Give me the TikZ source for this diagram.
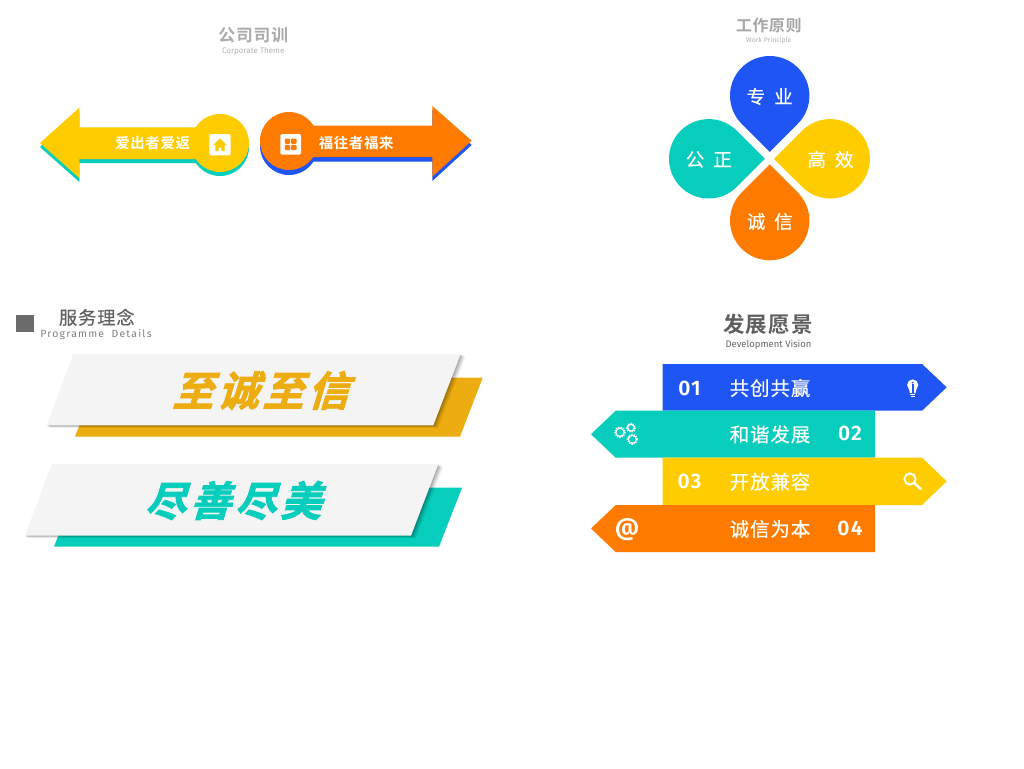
\documentclass[tikz,border=0pt]{standalone}
\usepackage{fontspec}
\newfontfamily\cjkreg[LetterSpace=5,FakeBold=0.5]{Noto Sans CJK SC}
\newfontfamily\cjkbold[LetterSpace=5]{Noto Sans CJK SC Bold}
\newfontfamily\cjkheavy[FakeSlant=0.3,FakeBold=2,LetterSpace=10]{Noto Sans CJK SC Bold}
\newfontfamily\latinreg{Fira Sans}
\newfontfamily\latinbold[LetterSpace=6]{Fira Sans SemiBold}
\definecolor{bluefill}{HTML}{1F55F5}
\definecolor{tealfill}{HTML}{07CDBC}
\definecolor{yellowfill}{HTML}{FFCC00}
\definecolor{orangefill}{HTML}{FF7B00}
\definecolor{goldfill}{HTML}{EDAC0F}
\definecolor{plate}{HTML}{F4F4F4}
\newlength{\du}
\setlength{\du}{1pt}
\tikzset{
  plain/.style={inner sep=0pt,outer sep=0pt},
  bigtitle/.style={plain,text=#1,font={\cjkbold\fontsize{16.8}{17}\selectfont}},
  subtitle/.style={plain,text=#1,font={\latinreg\fontsize{8}{8}\selectfont}},
  arrowtext/.style={plain,text=white,font={\cjkbold\fontsize{14.4}{14}\selectfont}},
  petaltext/.style={plain,text=white,font={\cjkreg\fontsize{18.5}{18}\selectfont\spaceskip=9pt\relax}},
  slanttext/.style={plain,text=#1,font={\cjkheavy\fontsize{41}{41}\selectfont}},
  bannertext/.style={plain,text=white,font={\cjkreg\fontsize{19.4}{19}\selectfont}},
  bannernum/.style={plain,text=white,font={\latinbold\fontsize{21}{21}\selectfont}},
  softshadow/.style={fill=black,opacity=#1},
  iconline/.style={draw=white,line width=1.4\du},
  gearteeth/.style={draw=white,line width=1.5\du,dash pattern=on 1.2\du off 1.2\du}
}
% one drop: tip pointing down before the rotation
\newcommand{\petal}[4]{
\fill[#4,shift={(#1\du,#2\du)},rotate=#3] (0\du,56.2\du)--(45:39.7\du) arc[start angle=45,end angle=-225,radius=39.7\du]--cycle;
}
\newcommand{\gear}[3]{
\draw[iconline,line width=1.2\du] (#1\du,#2\du) circle[radius=#3\du];
\draw[gearteeth] (#1\du,#2\du) circle[radius=#3\du+1\du];
}
\begin{document}
\begin{tikzpicture}
\pgftransformyscale{-1.000000}
\path[use as bounding box] (0\du,0\du) rectangle (1024\du,768\du);
\fill[white] (0\du,0\du) rectangle (1024\du,768\du);
% top left
\node[bigtitle=black!33] (themetitle) at (253.3\du,35\du){公司司训};
\node[subtitle=black!30] (themesub) at (253.3\du,51\du){Corporate Theme};
\fill[tealfill] (40\du,147\du)--(79.3\du,112\du)--(79.3\du,131\du)--(200\du,131\du)--(200\du,163\du)--(79.3\du,163\du)--(79.3\du,182\du)--cycle;
\fill[tealfill] (220\du,147\du) circle[radius=29\du];
\fill[yellowfill] (40\du,143\du)--(79.3\du,107.7\du)--(79.3\du,127.3\du)--(200\du,127.3\du)--(200\du,159\du)--(79.3\du,159\du)--(79.3\du,178\du)--cycle;
\fill[yellowfill] (220\du,143\du) circle[radius=29\du];
\fill[bluefill] (471.7\du,145\du)--(432.3\du,181\du)--(432.3\du,161.7\du)--(310\du,161.7\du)--(310\du,130\du)--(432.3\du,130\du)--(432.3\du,110\du)--cycle;
\fill[bluefill] (289\du,146\du) circle[radius=29\du];
\fill[orangefill] (471.7\du,140.7\du)--(432.3\du,106\du)--(432.3\du,125.7\du)--(310\du,125.7\du)--(310\du,157\du)--(432.3\du,157\du)--(432.3\du,176.7\du)--cycle;
\fill[orangefill] (289\du,141\du) circle[radius=29\du];
\fill[white,rounded corners=1.5\du] (209.3\du,134\du) rectangle (230.7\du,155.3\du);
\fill[yellowfill] (220\du,138.5\du)--(226.8\du,145.2\du)--(224.6\du,145.2\du)--(224.6\du,151\du)--(221.4\du,151\du)--(221.4\du,147.5\du)--(218.6\du,147.5\du)--(218.6\du,151\du)--(215.4\du,151\du)--(215.4\du,145.2\du)--(213.2\du,145.2\du)--cycle;
\fill[white,rounded corners=1.5\du] (280.3\du,134\du) rectangle (301\du,154.7\du);
\fill[orangefill,rounded corners=1\du] (284.8\du,138.5\du) rectangle (290.2\du,143.9\du);
\fill[orangefill,rounded corners=1\du] (291.1\du,138.5\du) rectangle (296.5\du,143.9\du);
\fill[orangefill,rounded corners=1\du] (284.8\du,144.8\du) rectangle (290.2\du,150.2\du);
\fill[orangefill,rounded corners=1\du] (291.1\du,144.8\du) rectangle (296.5\du,150.2\du);
\node[arrowtext] (yellowtext) at (152.7\du,142.7\du){爱出者爱返};
\node[arrowtext] (orangetext) at (356.2\du,142.7\du){福往者福来};
% top right
\node[bigtitle=black!35,font={\cjkbold\fontsize{15.8}{16}\selectfont}] (worktitle) at (768.8\du,25.7\du){工作原则};
\node[subtitle=black!30,font={\latinreg\fontsize{6.9}{7}\selectfont}] (worksub) at (768.8\du,40.8\du){Work Principle};
\petal{769.7}{95.7}{0}{bluefill}
\petal{830.2}{158.8}{90}{yellowfill}
\petal{708.7}{158.8}{-90}{tealfill}
\petal{769.7}{220.6}{180}{orangefill}
\node[petaltext] (petaltop) at (769.7\du,96.5\du){专 业};
\node[petaltext] (petalright) at (830.5\du,159.5\du){高 效};
\node[petaltext] (petalleft) at (708.8\du,159.5\du){公 正};
\node[petaltext] (petalbottom) at (769.8\du,221.5\du){诚 信};
% bottom left
\fill[black!58] (16.3\du,315\du) rectangle (34\du,332.3\du);
\node[plain,text=black!62,font={\cjkreg\fontsize{18.2}{19}\selectfont}] (servicetitle) at (96.8\du,317.3\du){服务理念};
\node[plain,text=black!50,font={\latinreg\fontsize{10.4}{10}\selectfont\addfontfeature{LetterSpace=12}}] (servicesub) at (96\du,334.5\du){Programme\,\, Details};
\fill[goldfill] (97.7\du,377.7\du)--(482.7\du,377.7\du)--(460\du,436.7\du)--(75\du,436.7\du)--cycle;
\foreach \off/\op in {5/.05,4/.06,3/.07,2/.09,1/.11}{
\fill[softshadow=\op] (73.3\du+\off*0.5\du,354\du+\off*0.5\du)--(460.7\du+\off\du,354\du+\off*0.5\du)--(433.3\du+\off\du,425.3\du+\off*0.5\du)--(46.7\du+\off*0.5\du,425.3\du+\off*0.5\du)--cycle;
}
\fill[plate] (73.3\du,354\du)--(460.7\du,354\du)--(433.3\du,425.3\du)--(46.7\du,425.3\du)--cycle;
\node[slanttext=goldfill] (goldtext) at (260.5\du,390.5\du){至诚至信};
\fill[tealfill] (76.7\du,487.7\du)--(462\du,487.7\du)--(439\du,546.7\du)--(54\du,546.7\du)--cycle;
\foreach \off/\op in {5/.05,4/.06,3/.07,2/.09,1/.11}{
\fill[softshadow=\op] (51.7\du+\off*0.5\du,464.3\du+\off*0.5\du)--(438.3\du+\off\du,464.3\du+\off*0.5\du)--(411\du+\off\du,535.7\du+\off*0.5\du)--(25\du+\off*0.5\du,535.7\du+\off*0.5\du)--cycle;
}
\fill[plate] (51.7\du,464.3\du)--(438.3\du,464.3\du)--(411\du,535.7\du)--(25\du,535.7\du)--cycle;
\node[slanttext=tealfill] (tealtext) at (233\du,500.5\du){尽善尽美};
% bottom right
\node[plain,text=black!63,font={\cjkbold\fontsize{21.5}{22}\selectfont}] (visiontitle) at (768\du,324.3\du){发展愿景};
\node[plain,text=black!60,font={\latinreg\fontsize{9.5}{9}\selectfont}] (visionsub) at (768.5\du,344.8\du){Development Vision};
\fill[bluefill] (662.7\du,364\du)--(922\du,364\du)--(946.7\du,387.3\du)--(922\du,410.7\du)--(662.7\du,410.7\du)--cycle;
\fill[tealfill] (875\du,410.7\du)--(615.7\du,410.7\du)--(591\du,434.2\du)--(615.7\du,457.7\du)--(875\du,457.7\du)--cycle;
\fill[yellowfill] (662.7\du,457.7\du)--(922\du,457.7\du)--(946.7\du,481.3\du)--(922\du,505\du)--(662.7\du,505\du)--cycle;
\fill[orangefill] (875\du,505\du)--(615.7\du,505\du)--(591\du,528.5\du)--(615.7\du,552\du)--(875\du,552\du)--cycle;
\node[bannernum] (numa) at (689.5\du,388\du){01};
\node[bannertext] (texta) at (770\du,388\du){共创共赢};
\node[bannertext] (textb) at (770\du,434.3\du){和谐发展};
\node[bannernum] (numb) at (850\du,433.5\du){02};
\node[bannernum] (numc) at (689.5\du,481.7\du){03};
\node[bannertext] (textc) at (770\du,481.7\du){开放兼容};
\node[bannertext] (textd) at (770\du,529\du){诚信为本};
\node[bannernum] (numd) at (850\du,528\du){04};
% banner icons
\fill[white] (912.7\du,385\du) circle[radius=5.6\du];
\fill[white] (908.8\du,388\du)--(916.6\du,388\du)--(915.6\du,393\du)--(909.8\du,393\du)--cycle;
\fill[white] (910\du,394\du) rectangle (915.4\du,395.2\du);
\fill[white] (910.8\du,395.8\du) rectangle (914.6\du,396.9\du);
\fill[bluefill] (912.7\du,382.6\du) circle[radius=1\du];
\fill[bluefill] (911.5\du,384.3\du) rectangle (913.9\du,392.5\du);
\gear{620}{432.3}{4.1}
\gear{631}{427.7}{3.3}
\gear{632.3}{439.3}{3.9}
\draw[iconline,line width=1.9\du] (910\du,479\du) circle[radius=5.6\du];
\draw[white,line width=2.6\du,line cap=round] (914.3\du,483\du)--(920.7\du,489\du);
\node[plain,text=white,font={\latinbold\fontsize{24}{24}\selectfont}] (atsign) at (627\du,530\du){@};
\end{tikzpicture}
\end{document}
